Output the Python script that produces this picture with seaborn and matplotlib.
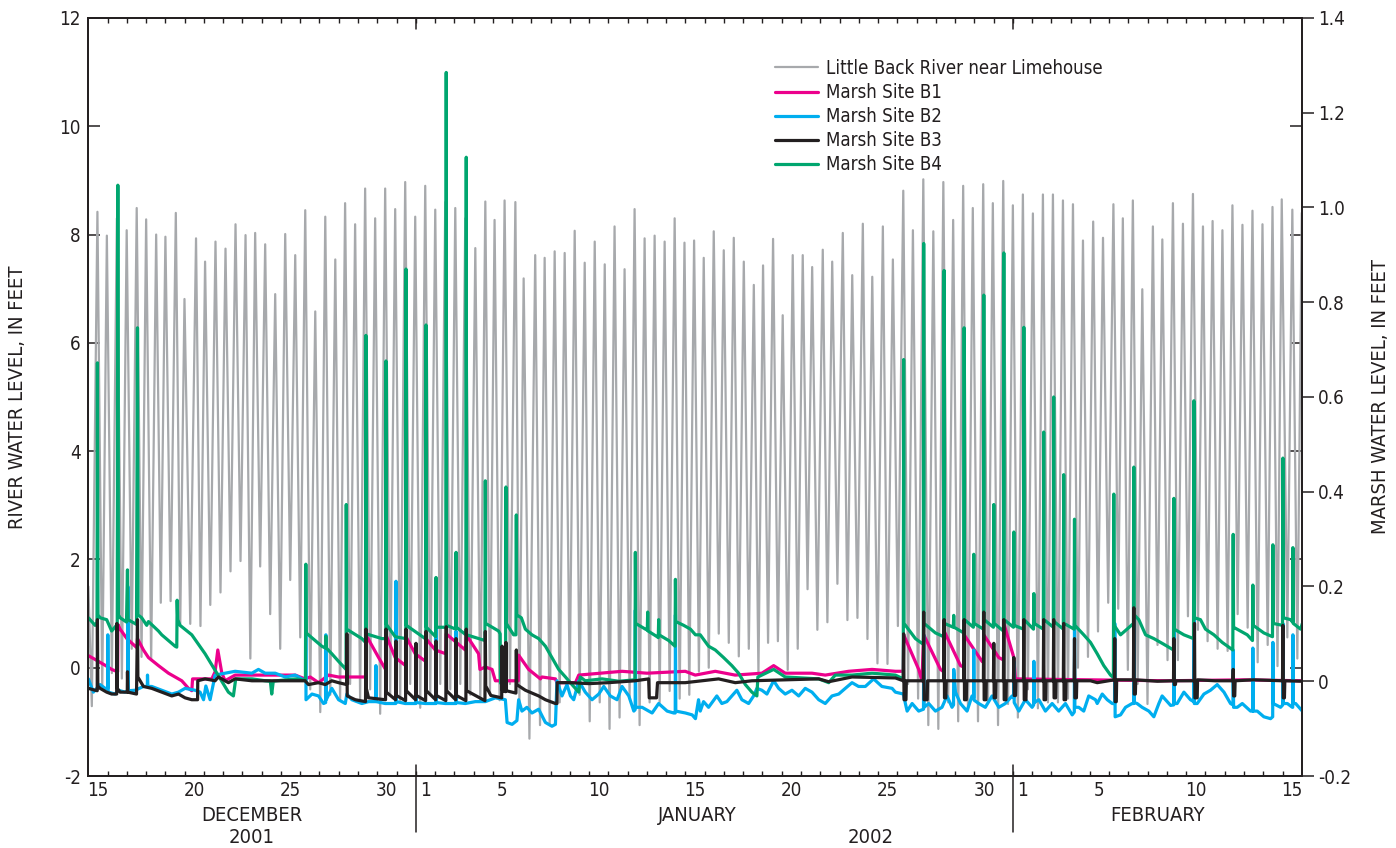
import matplotlib
matplotlib.use("Agg")
import matplotlib.pyplot as plt
from matplotlib.lines import Line2D
import numpy as np
import pandas as pd
import seaborn as sns

# ---------------------------------------------------------------
# Time axis: days since 15 December 2001, 00:00
# ---------------------------------------------------------------
X_START, X_END = 0.0, 63.0
DAY_TICK_POS = [0.5, 5.5, 10.5, 15.5, 17.5, 21.5, 26.5, 31.5, 36.5, 41.5,
                46.5, 48.5, 52.5, 57.5, 62.5]
DAY_TICK_LABELS = ["15", "20", "25", "30", "1", "5", "10", "15", "20", "25",
                   "30", "1", "5", "10", "15"]
MONTH_BREAKS = [17.0, 48.0]
MONTH_NAMES = [("DECEMBER", 8.5), ("JANUARY", 31.6), ("FEBRUARY", 55.5)]
YEAR_NAMES = [("2001", 8.5), ("2002", 40.6)]

LEFT_TICKS = [-2, 0, 2, 4, 6, 8, 10, 12]
RIGHT_TICKS = [-0.2, 0.0, 0.2, 0.4, 0.6, 0.8, 1.0, 1.2, 1.4]
RIGHT_TICK_LABELS = ["-0.2", "0", "0.2", "0.4", "0.6", "0.8", "1.0", "1.2", "1.4"]

# ---------------------------------------------------------------
# Little Back River near Limehouse: high and low tide readings (ft)
# ---------------------------------------------------------------
RIVER_HIGH_DAYS = [
    0.47, 0.96, 1.48, 1.99, 2.51, 3.00, 3.52, 4.00, 4.54, 4.99,
    5.59, 6.06, 6.60, 7.12, 7.64, 8.16, 8.66, 9.18, 9.70, 10.22,
    10.74, 11.26, 11.78, 12.30, 12.82, 13.33, 13.85, 14.37, 14.89, 15.41,
    15.93, 16.45, 16.97, 17.49, 18.01, 18.53, 19.05, 19.57, 20.09, 20.61,
    21.09, 21.61, 22.17, 22.60, 23.20, 23.69, 24.21, 24.73, 25.25, 25.77,
    26.29, 26.81, 27.32, 27.84, 28.36, 28.88, 29.40, 29.92, 30.44, 30.95,
    31.45, 31.95, 32.47, 32.99, 33.51, 34.03, 34.55, 35.03, 35.55, 36.05,
    36.57, 37.09, 37.58, 38.13, 38.62, 39.17, 39.66, 40.21, 40.70, 41.25,
    41.77, 42.31, 42.81, 43.35, 43.87, 44.39, 44.90, 45.42, 45.92, 46.46,
    46.96, 47.50, 48.00, 48.52, 49.04, 49.56, 50.08, 50.60, 51.12, 51.64,
    52.17, 52.68, 53.22, 53.71, 54.23, 54.72, 55.27, 55.76, 56.31, 56.83,
    57.35, 57.87, 58.37, 58.88, 59.40, 59.92, 60.44, 60.96, 61.48, 61.96,
    62.51, 63.00]
RIVER_HIGH_FT = [
    8.42, 7.98, 8.30, 8.08, 8.49, 8.28, 8.00, 7.96, 8.40, 6.81,
    7.93, 7.50, 7.87, 7.74, 8.19, 7.99, 8.03, 7.82, 6.90, 8.01,
    7.62, 8.45, 6.58, 8.33, 7.54, 8.58, 8.19, 8.85, 8.30, 8.85,
    8.47, 8.97, 8.33, 8.90, 8.46, 8.60, 8.49, 8.30, 7.75, 8.61,
    8.27, 8.63, 8.60, 7.19, 7.62, 7.57, 7.69, 7.66, 8.07, 7.48,
    7.87, 7.45, 8.15, 7.36, 8.47, 7.93, 7.98, 7.87, 8.30, 7.85,
    7.89, 7.57, 8.06, 7.71, 7.94, 7.50, 7.07, 7.43, 7.92, 6.51,
    7.62, 7.62, 7.40, 7.72, 7.50, 8.03, 7.25, 8.20, 7.22, 8.15,
    7.54, 8.81, 8.08, 9.02, 8.06, 8.97, 8.27, 8.90, 8.49, 8.93,
    8.58, 8.99, 8.54, 8.74, 8.39, 8.74, 8.74, 8.63, 8.56, 7.89,
    8.24, 7.94, 8.56, 8.30, 8.63, 6.99, 8.15, 7.91, 8.58, 8.20,
    8.75, 8.15, 8.25, 8.08, 8.54, 8.18, 8.44, 8.19, 8.51, 8.65,
    8.46, 8.40]
RIVER_LOW_DAYS = [
    0.00, 0.18, 0.72, 1.22, 1.74, 2.25, 2.76, 3.26, 3.76, 4.27, 4.77,
    5.29, 5.82, 6.33, 6.86, 7.38, 7.90, 8.41, 8.92, 9.44, 9.96,
    10.48, 11.00, 11.52, 12.04, 12.56, 13.07, 13.59, 14.11, 14.63, 15.15,
    15.67, 16.19, 16.71, 17.23, 17.75, 18.27, 18.79, 19.31, 19.83, 20.35,
    20.85, 21.35, 21.89, 22.38, 22.90, 23.45, 23.95, 24.47, 24.99, 25.51,
    26.03, 26.55, 27.06, 27.58, 28.10, 28.62, 29.14, 29.66, 30.18, 30.70,
    31.20, 31.70, 32.21, 32.73, 33.25, 33.77, 34.29, 34.79, 35.29, 35.80,
    36.31, 36.83, 37.34, 37.85, 38.37, 38.89, 39.41, 39.93, 40.45, 40.97,
    41.49, 42.03, 42.56, 43.08, 43.61, 44.13, 44.64, 45.16, 45.67, 46.19,
    46.71, 47.23, 47.75, 48.26, 48.78, 49.30, 49.82, 50.34, 50.86, 51.38,
    51.90, 52.42, 52.95, 53.47, 53.97, 54.48, 54.99, 55.51, 56.03, 56.57,
    57.09, 57.61, 58.11, 58.63, 59.15, 59.67, 60.19, 60.71, 61.23, 61.74,
    62.25, 62.77]
RIVER_LOW_FT = [
    1.50, -0.71, -0.40, -0.10, -0.20, 0.35, 0.20, 0.14, 1.20, 1.23, 0.81,
    0.81, 0.77, 1.16, 1.39, 1.78, 1.97, 0.17, 1.87, 0.99, 0.35,
    1.62, 0.56, -0.40, -0.82, -0.50, -0.60, -0.30, -0.60, -0.40, -0.85,
    -0.50, -0.60, -0.30, -0.74, -0.50, -0.30, -0.40, -0.30, -0.50, -0.60,
    -0.50, -0.60, -0.30, -0.64, -1.31, -1.06, -1.06, -0.64, -0.28, -0.50,
    -0.99, -0.64, -1.13, -0.92, -0.57, -1.06, -0.64, -0.64, -0.43, -0.57,
    -0.50, -0.07, 0.00, 0.63, 0.46, 0.21, 0.35, -0.10, 0.46, 0.49,
    -0.04, 0.35, 1.45, 0.70, 0.84, 1.55, 0.88, 0.92, 0.53, 0.08,
    0.07, 0.77, -0.30, -0.57, -1.06, -1.13, -0.64, -0.99, -0.78, -0.99,
    -0.64, -1.06, -0.67, -0.92, -0.40, -0.75, -0.64, -0.64, -0.57, 0.00,
    0.20, 0.67, 1.20, 1.09, -0.04, -0.30, -0.67, 0.42, 0.14, 0.14,
    0.95, 0.70, 0.49, 0.35, 0.31, 0.99, 0.74, 0.10, 0.42, 0.03,
    0.56, 0.17]

# ---------------------------------------------------------------
# Marsh sites: (day, water level in ft)
# ---------------------------------------------------------------
MARSH_B1 = [
    (0.00, 0.054), (0.35, 0.046), (0.90, 0.033), (1.21, 0.025), (1.52, 0.020), (1.53, 0.120),
    (1.65, 0.110), (2.00, 0.090), (2.43, 0.074), (2.54, 0.070), (2.55, 0.090), (2.86, 0.066),
    (3.12, 0.050), (3.64, 0.033), (4.16, 0.017), (4.85, 0.001), (5.20, -0.015), (5.37, -0.020),
    (5.41, 0.005), (6.41, 0.005), (6.58, 0.020), (6.72, 0.066), (6.93, 0.017), (7.10, 0.001),
    (7.27, 0.005), (7.62, 0.013), (8.14, 0.013), (10.74, 0.013), (11.25, 0.005), (11.52, 0.009),
    (11.95, -0.003), (12.47, 0.013), (12.99, 0.009), (14.39, 0.009), (14.41, 0.098), (15.07, 0.050),
    (15.43, 0.025), (15.45, 0.098), (15.93, 0.050), (16.47, 0.033), (16.49, 0.094), (16.97, 0.058),
    (17.51, 0.042), (17.53, 0.090), (18.01, 0.066), (18.56, 0.058), (18.58, 0.100), (19.57, 0.066),
    (19.62, 0.098), (20.26, 0.058), (20.33, 0.025), (20.61, 0.030), (20.96, 0.025), (21.13, 0.001),
    (22.32, 0.001), (22.34, 0.055), (22.86, 0.025), (23.47, 0.005), (23.55, 0.009), (24.25, 0.005),
    (24.33, -0.003), (25.29, -0.003), (25.46, 0.013), (27.71, 0.021), (29.00, 0.017), (30.99, 0.021),
    (31.51, 0.013), (32.55, 0.021), (33.58, 0.013), (34.97, 0.017), (35.58, 0.033), (36.18, 0.017),
    (37.57, 0.017), (38.26, 0.013), (39.47, 0.021), (40.69, 0.025), (41.90, 0.021), (42.31, 0.021),
    (42.33, 0.098), (43.11, 0.025), (43.28, 0.001), (43.37, 0.098), (44.24, 0.025), (44.41, 0.020),
    (44.43, 0.106), (45.28, 0.033), (45.45, 0.030), (45.47, 0.098), (46.40, 0.042), (46.47, 0.040),
    (46.49, 0.098), (47.27, 0.050), (47.51, 0.045), (47.53, 0.122), (48.05, 0.050), (48.13, 0.005),
    (52.00, 0.003), (56.00, 0.001), (60.00, 0.003), (63.03, 0.001)]

MARSH_B2 = [
    (0.00, 0.005), (0.26, -0.023), (0.61, -0.007), (0.87, -0.015), (1.00, -0.015), (1.01, 0.098),
    (1.03, -0.023), (1.39, -0.027), (1.56, -0.019), (1.91, -0.023), (2.04, -0.020), (2.05, 0.200),
    (2.07, -0.020), (2.43, -0.019), (2.86, -0.011), (3.06, -0.011), (3.07, 0.013), (3.09, -0.011),
    (3.29, -0.011), (3.81, -0.019), (4.33, -0.027), (4.68, -0.023), (5.02, -0.015), (5.54, -0.019),
    (5.80, -0.023), (5.98, -0.039), (6.10, -0.010), (6.32, -0.039), (6.58, 0.013), (7.62, 0.021),
    (8.49, 0.017), (8.83, 0.025), (9.18, 0.017), (9.70, 0.017), (10.22, 0.009), (10.74, 0.013),
    (11.26, 0.001), (11.28, 0.001), (11.29, 0.106), (11.30, -0.039), (11.61, -0.027), (11.95, -0.031),
    (12.21, -0.047), (12.32, -0.045), (12.33, 0.098), (12.35, -0.039), (12.64, -0.015), (12.99, -0.039),
    (13.34, -0.047), (13.42, -0.027), (13.68, -0.039), (14.20, -0.047), (14.55, -0.043), (14.92, -0.043),
    (14.93, 0.033), (14.95, -0.043), (15.41, -0.047), (15.96, -0.047), (15.97, 0.211), (15.99, -0.043),
    (16.45, -0.047), (16.99, -0.047), (17.01, 0.070), (17.03, -0.045), (17.49, -0.047), (18.04, -0.047),
    (18.05, 0.114), (18.07, -0.045), (18.53, -0.047), (19.08, -0.047), (19.09, 0.106), (19.11, -0.045),
    (19.57, -0.047), (20.09, -0.043), (20.61, -0.043), (21.13, -0.035), (21.65, -0.039), (21.74, -0.087),
    (22.00, -0.091), (22.25, -0.083), (22.34, -0.039), (22.51, -0.063), (22.77, -0.055), (23.03, -0.067),
    (23.38, -0.059), (23.73, -0.087), (24.07, -0.095), (24.25, -0.091), (24.33, 0.001), (24.59, -0.031),
    (24.85, -0.007), (25.03, -0.031), (25.20, -0.039), (25.46, 0.001), (25.80, -0.023), (26.15, -0.039),
    (26.50, -0.027), (26.76, -0.011), (27.10, -0.031), (27.45, -0.039), (27.71, -0.011), (28.06, -0.031),
    (28.32, -0.063), (28.39, -0.060), (28.40, 0.150), (28.42, -0.055), (28.75, -0.055), (29.09, -0.063),
    (29.27, -0.067), (29.61, -0.047), (30.05, -0.063), (30.39, -0.067), (30.47, -0.067), (30.48, 0.140),
    (30.50, -0.063), (31.00, -0.067), (31.35, -0.071), (31.52, -0.079), (31.68, -0.039), (31.77, -0.063),
    (31.94, -0.043), (32.20, -0.055), (32.63, -0.031), (32.89, -0.047), (33.15, -0.043), (33.67, -0.019),
    (33.93, -0.039), (34.28, -0.047), (34.54, -0.031), (34.71, -0.015), (34.97, -0.019), (35.23, -0.027),
    (35.58, 0.001), (35.84, -0.015), (36.18, -0.027), (36.53, -0.019), (36.88, -0.031), (37.22, -0.015),
    (37.57, -0.023), (37.92, -0.039), (38.26, -0.047), (38.61, -0.031), (38.96, -0.027), (39.30, -0.015),
    (39.65, -0.003), (39.99, -0.011), (40.34, -0.011), (40.77, 0.005), (41.20, -0.011), (41.73, -0.015),
    (41.90, -0.023), (42.32, -0.027), (42.42, -0.047), (42.51, -0.063), (42.77, -0.047), (43.11, -0.063),
    (43.36, -0.059), (43.37, 0.098), (43.39, -0.055), (43.63, -0.047), (43.98, -0.063), (44.32, -0.055),
    (44.58, -0.031), (44.84, -0.055), (44.92, -0.050), (44.93, 0.025), (45.02, -0.023), (45.28, -0.047),
    (45.62, -0.063), (45.88, -0.031), (45.96, -0.035), (45.97, 0.066), (45.99, -0.040), (46.23, -0.047),
    (46.57, -0.055), (46.92, -0.031), (47.27, -0.055), (47.61, -0.047), (47.96, -0.031), (48.04, -0.035),
    (48.05, 0.042), (48.07, -0.045), (48.31, -0.063), (48.65, -0.039), (49.00, -0.055), (49.08, -0.050),
    (49.09, 0.042), (49.11, -0.045), (49.35, -0.039), (49.69, -0.063), (50.04, -0.047), (50.38, -0.063),
    (50.73, -0.047), (51.08, -0.071), (51.19, -0.065), (51.20, 0.122), (51.22, -0.055), (51.42, -0.055),
    (51.68, -0.063), (51.94, -0.031), (52.29, -0.039), (52.38, -0.047), (52.64, -0.027), (52.90, -0.039),
    (53.16, -0.047), (53.28, -0.047), (53.29, 0.122), (53.31, -0.075), (53.59, -0.071), (53.85, -0.055),
    (54.19, -0.047), (54.27, -0.047), (54.28, 0.139), (54.30, -0.045), (54.45, -0.047), (54.71, -0.055),
    (55.06, -0.063), (55.32, -0.075), (55.58, -0.047), (55.75, -0.031), (56.01, -0.043), (56.19, -0.051),
    (56.35, -0.050), (56.36, 0.130), (56.38, -0.047), (56.53, -0.047), (56.88, -0.023), (57.22, -0.039),
    (57.39, -0.043), (57.40, 0.139), (57.42, -0.047), (57.57, -0.047), (57.92, -0.027), (58.26, -0.019),
    (58.61, -0.007), (58.96, -0.023), (59.30, -0.047), (59.43, -0.050), (59.44, 0.066), (59.46, -0.055),
    (59.65, -0.055), (59.91, -0.047), (60.34, -0.063), (60.45, -0.063), (60.46, 0.070), (60.48, -0.063),
    (60.69, -0.063), (61.03, -0.075), (61.38, -0.079), (61.49, -0.075), (61.50, 0.082), (61.52, -0.047),
    (61.90, -0.055), (62.01, -0.050), (62.02, 0.122), (62.04, -0.047), (62.25, -0.047), (62.51, -0.055),
    (62.53, -0.055), (62.54, 0.098), (62.56, -0.047), (62.68, -0.047), (63.03, -0.063)]

MARSH_B3 = [
    (0.00, -0.015), (0.35, -0.019), (0.46, -0.020), (0.47, 0.130), (0.49, -0.010), (0.61, -0.015),
    (0.95, -0.023), (1.21, -0.027), (1.47, -0.027), (1.48, 0.122), (1.50, -0.015), (1.65, -0.023),
    (2.02, -0.023), (2.03, 0.020), (2.05, -0.023), (2.50, -0.027), (2.55, 0.130), (2.57, 0.009),
    (2.86, -0.011), (3.29, -0.015), (3.81, -0.023), (4.33, -0.031), (4.68, -0.027), (5.02, -0.035),
    (5.37, -0.039), (5.67, -0.039), (5.68, 0.001), (6.06, 0.005), (6.58, 0.001), (6.75, 0.009),
    (7.27, -0.003), (7.62, 0.005), (8.49, 0.001), (10.74, 0.001), (11.25, 0.001), (11.43, -0.007),
    (11.95, -0.003), (12.30, -0.007), (12.64, 0.001), (12.99, -0.003), (13.41, -0.007), (13.42, 0.100),
    (13.44, -0.031), (13.86, -0.039), (14.39, -0.043), (14.41, 0.110), (14.43, -0.015), (14.55, -0.035),
    (15.43, -0.039), (15.45, 0.110), (15.47, -0.023), (15.95, -0.039), (15.97, 0.085), (15.99, -0.030),
    (16.47, -0.041), (16.49, 0.110), (16.51, -0.020), (16.99, -0.039), (17.01, 0.080), (17.03, -0.030),
    (17.51, -0.041), (17.53, 0.105), (17.55, -0.020), (18.03, -0.039), (18.05, 0.085), (18.07, -0.030),
    (18.56, -0.041), (18.58, 0.115), (18.60, -0.020), (19.07, -0.039), (19.09, 0.090), (19.11, -0.030),
    (19.60, -0.041), (19.62, 0.110), (19.64, -0.020), (20.59, -0.041), (20.61, 0.105), (20.63, -0.010),
    (20.90, -0.030), (21.46, -0.035), (21.48, 0.074), (21.50, -0.020), (21.66, -0.022), (21.68, 0.082),
    (21.70, -0.020), (22.20, -0.025), (22.22, 0.066), (22.24, -0.007), (22.69, -0.019), (23.38, -0.031),
    (23.73, -0.039), (24.25, -0.047), (24.33, -0.047), (24.34, -0.003), (25.00, -0.003), (26.00, -0.005),
    (27.00, -0.003), (28.40, 0.001), (29.09, 0.005), (29.12, -0.035), (29.50, -0.035), (29.55, -0.003),
    (30.99, -0.003), (31.86, 0.001), (32.72, 0.005), (33.59, -0.003), (34.45, 0.001), (36.18, 0.003),
    (37.92, 0.005), (38.44, -0.001), (39.65, 0.009), (41.90, 0.007), (42.31, 0.001), (42.33, 0.100),
    (42.35, -0.039), (42.45, -0.039), (42.47, 0.001), (43.35, 0.001), (43.37, 0.146), (43.39, -0.039),
    (43.55, -0.039), (43.57, 0.001), (44.41, 0.001), (44.43, 0.130), (44.45, -0.035), (44.52, -0.035),
    (44.54, 0.001), (45.45, 0.001), (45.47, 0.130), (45.49, -0.039), (45.58, -0.039), (45.60, 0.001),
    (46.47, 0.001), (46.49, 0.146), (46.51, -0.039), (46.60, -0.039), (46.62, 0.001), (46.99, 0.001),
    (47.01, 0.080), (47.03, -0.035), (47.10, -0.035), (47.12, 0.001), (47.51, 0.001), (47.53, 0.130),
    (47.55, -0.039), (47.64, -0.039), (47.66, 0.001), (48.03, 0.001), (48.05, 0.050), (48.07, -0.030),
    (48.14, -0.030), (48.16, 0.001), (48.55, 0.001), (48.57, 0.130), (48.59, -0.039), (48.68, -0.039),
    (48.70, 0.001), (49.58, 0.001), (49.60, 0.130), (49.62, -0.039), (49.70, -0.039), (49.72, 0.001),
    (50.10, 0.001), (50.12, 0.130), (50.14, -0.035), (50.22, -0.035), (50.24, 0.001), (50.62, 0.001),
    (50.64, 0.122), (50.66, -0.039), (50.74, -0.039), (50.76, 0.001), (51.18, 0.001), (51.20, 0.090),
    (51.22, -0.035), (51.30, -0.035), (51.32, 0.001), (52.03, 0.001), (52.38, -0.003), (53.27, 0.003),
    (53.29, 0.090), (53.31, -0.043), (53.37, -0.043), (53.39, 0.003), (54.26, 0.003), (54.28, 0.155),
    (54.30, -0.027), (54.36, -0.027), (54.38, 0.003), (55.50, 0.000), (56.34, 0.001), (56.36, 0.090),
    (56.38, -0.007), (56.44, -0.007), (56.46, 0.001), (57.41, 0.001), (57.43, 0.122), (57.45, -0.035),
    (57.57, -0.035), (57.59, 0.003), (58.50, 0.001), (59.42, 0.001), (59.44, 0.025), (59.46, -0.031),
    (59.52, -0.031), (59.54, 0.001), (60.50, 0.003), (62.00, 0.001), (62.02, 0.118), (62.04, -0.035),
    (62.10, -0.035), (62.12, 0.001), (63.03, 0.000)]

MARSH_B4 = [
    (0.00, 0.134), (0.35, 0.118), (0.45, 0.125), (0.47, 0.672), (0.50, 0.140), (0.61, 0.134),
    (0.95, 0.130), (1.21, 0.106), (1.50, 0.120), (1.53, 1.047), (1.56, 0.140), (1.65, 0.134),
    (1.98, 0.125), (2.03, 0.235), (2.06, 0.130), (2.50, 0.120), (2.55, 0.746), (2.58, 0.140),
    (2.77, 0.134), (3.03, 0.118), (3.12, 0.126), (3.64, 0.106), (3.81, 0.098), (4.50, 0.074),
    (4.59, 0.072), (4.61, 0.171), (4.64, 0.130), (4.76, 0.118), (5.37, 0.098), (6.06, 0.058),
    (6.67, 0.017), (7.27, -0.023), (7.53, -0.031), (7.65, 0.005), (8.50, 0.005), (9.18, 0.001),
    (9.45, 0.000), (9.52, -0.027), (9.60, 0.000), (9.79, 0.001), (10.74, 0.005), (11.27, 0.002),
    (11.29, 0.247), (11.31, 0.102), (12.12, 0.074), (12.31, 0.070), (12.33, 0.095), (12.36, 0.070),
    (12.64, 0.058), (12.99, 0.042), (13.38, 0.025), (13.39, 0.373), (13.41, 0.110), (14.20, 0.090),
    (14.39, 0.082), (14.41, 0.730), (14.43, 0.100), (15.24, 0.090), (15.44, 0.090), (15.45, 0.676),
    (15.47, 0.120), (15.93, 0.094), (16.48, 0.090), (16.49, 0.870), (16.51, 0.118), (17.49, 0.090),
    (17.52, 0.090), (17.53, 0.752), (17.55, 0.114), (18.03, 0.094), (18.05, 0.219), (18.07, 0.114),
    (18.56, 0.114), (18.58, 1.285), (18.60, 0.118), (19.07, 0.110), (19.09, 0.272), (19.11, 0.114),
    (19.60, 0.098), (19.62, 1.106), (19.64, 0.098), (20.59, 0.086), (20.61, 0.423), (20.63, 0.122),
    (21.30, 0.106), (21.38, 0.100), (21.40, -0.004), (21.66, -0.004), (21.68, 0.410), (21.70, 0.122),
    (22.08, 0.098), (22.20, 0.098), (22.22, 0.351), (22.24, 0.140), (22.48, 0.134), (22.69, 0.110),
    (23.03, 0.098), (23.38, 0.090), (23.73, 0.074), (24.07, 0.050), (24.42, 0.025), (24.77, 0.009),
    (25.11, -0.007), (25.46, -0.023), (25.54, 0.009), (25.80, 0.001), (26.67, 0.005), (27.54, 0.000),
    (28.38, 0.003), (28.40, 0.272), (28.42, 0.122), (28.92, 0.110), (29.02, 0.108), (29.04, 0.146),
    (29.06, 0.106), (29.53, 0.094), (29.59, 0.092), (29.61, 0.130), (29.63, 0.098), (30.13, 0.086),
    (30.46, 0.074), (30.48, 0.215), (30.50, 0.126), (30.91, 0.118), (31.26, 0.110), (31.52, 0.098),
    (31.77, 0.098), (32.20, 0.074), (32.55, 0.066), (32.98, 0.050), (33.41, 0.033), (33.76, 0.017),
    (34.11, -0.007), (34.45, -0.023), (34.71, -0.031), (34.76, 0.009), (35.58, 0.025), (36.18, 0.009),
    (37.92, 0.005), (38.44, -0.003), (38.78, 0.013), (39.65, 0.013), (40.69, 0.017), (41.90, 0.013),
    (42.31, 0.005), (42.33, 0.679), (42.35, 0.122), (42.94, 0.090), (43.35, 0.078), (43.37, 0.924),
    (43.39, 0.122), (43.98, 0.102), (44.41, 0.094), (44.43, 0.867), (44.45, 0.122), (44.91, 0.114),
    (44.93, 0.139), (44.95, 0.114), (45.45, 0.102), (45.47, 0.746), (45.49, 0.130), (45.95, 0.114),
    (45.97, 0.268), (45.99, 0.122), (46.47, 0.110), (46.49, 0.815), (46.51, 0.130), (46.99, 0.114),
    (47.01, 0.373), (47.03, 0.122), (47.51, 0.106), (47.53, 0.904), (47.55, 0.130), (48.03, 0.114),
    (48.05, 0.315), (48.07, 0.118), (48.55, 0.110), (48.57, 0.747), (48.59, 0.130), (49.07, 0.110),
    (49.09, 0.185), (49.11, 0.122), (49.58, 0.110), (49.60, 0.526), (49.62, 0.130), (50.10, 0.114),
    (50.12, 0.600), (50.14, 0.126), (50.62, 0.110), (50.64, 0.436), (50.66, 0.122), (51.18, 0.110),
    (51.20, 0.342), (51.22, 0.118), (51.68, 0.098), (52.03, 0.082), (52.38, 0.058), (52.72, 0.033),
    (53.07, 0.013), (53.22, 0.008), (53.24, 0.395), (53.26, 0.118), (53.59, 0.098), (53.93, 0.110),
    (54.26, 0.122), (54.28, 0.452), (54.30, 0.140), (54.54, 0.130), (54.89, 0.098), (55.32, 0.090),
    (55.84, 0.078), (56.34, 0.066), (56.36, 0.386), (56.38, 0.110), (56.88, 0.098), (57.38, 0.090),
    (57.40, 0.592), (57.42, 0.134), (57.74, 0.130), (58.00, 0.110), (58.44, 0.098), (58.87, 0.082),
    (59.42, 0.066), (59.44, 0.310), (59.46, 0.114), (60.17, 0.098), (60.44, 0.086), (60.46, 0.203),
    (60.48, 0.118), (61.03, 0.102), (61.48, 0.094), (61.50, 0.288), (61.52, 0.122), (62.00, 0.118),
    (62.02, 0.471), (62.04, 0.134), (62.42, 0.130), (62.52, 0.125), (62.54, 0.282), (62.56, 0.122),
    (62.94, 0.110), (63.03, 0.122)]

RIVER_NAME = "Little Back River near Limehouse"
SITE_NAMES = ["Marsh Site B1", "Marsh Site B2", "Marsh Site B3", "Marsh Site B4"]
COLORS = {
    RIVER_NAME: "#a7a9ac",
    "Marsh Site B1": "#ec008c",
    "Marsh Site B2": "#00aeef",
    "Marsh Site B3": "#231f20",
    "Marsh Site B4": "#00a66f",
}
DRAW_ORDER = ["Marsh Site B1", "Marsh Site B2", "Marsh Site B4", "Marsh Site B3"]

# ---------------------------------------------------------------
# Tables
# ---------------------------------------------------------------
river = pd.DataFrame({
    "day": RIVER_HIGH_DAYS + RIVER_LOW_DAYS,
    "level": RIVER_HIGH_FT + RIVER_LOW_FT,
}).sort_values("day").reset_index(drop=True)

frames = []
for name, series in zip(SITE_NAMES, [MARSH_B1, MARSH_B2, MARSH_B3, MARSH_B4]):
    f = pd.DataFrame(series, columns=["day", "level"])
    f["site"] = name
    frames.append(f)
marsh = pd.concat(frames, ignore_index=True)

# ---------------------------------------------------------------
# Figure
# ---------------------------------------------------------------
sns.set_theme(style="white")
plt.rcParams["font.family"] = ["DejaVu Sans"]
plt.rcParams["font.stretch"] = "condensed"
plt.rcParams["axes.unicode_minus"] = False

TEXT = "#231f20"
FS = 13.5
fig = plt.figure(figsize=(13.96, 8.48), dpi=100)
ax = fig.add_axes([0.0633, 0.0849, 0.8692, 0.8939])

sns.lineplot(data=river, x="day", y="level", ax=ax, color=COLORS[RIVER_NAME],
             linewidth=1.6, estimator=None, sort=False)

ax2 = ax.twinx()
sns.lineplot(data=marsh, x="day", y="level", hue="site", hue_order=DRAW_ORDER,
             palette=COLORS, ax=ax2, linewidth=2.3, estimator=None, sort=False,
             legend=False)

# --- left axis (river)
ax.set_xlim(X_START, X_END)
ax.set_ylim(-2, 12)
ax.set_yticks(LEFT_TICKS)
ax.set_yticklabels([str(t) for t in LEFT_TICKS])
ax.set_xlabel("")
ax.set_ylabel("RIVER WATER LEVEL, IN FEET", fontsize=14.5, color=TEXT)
ax.yaxis.label.set_va("center")
ax.yaxis.set_label_coords(-0.058, 0.5)
ax.tick_params(axis="y", which="major", direction="in", length=8.6, width=1.1,
               left=True, right=True, labelright=False, labelsize=FS,
               colors=TEXT, pad=5.5)

# --- right axis (marsh)
ax2.set_ylim(-0.2, 1.4)
ax2.set_yticks(RIGHT_TICKS)
ax2.set_yticklabels(RIGHT_TICK_LABELS)
ax2.set_ylabel("MARSH WATER LEVEL, IN FEET", fontsize=14.5, color=TEXT, rotation=90)
ax2.yaxis.label.set_va("center")
ax2.yaxis.set_label_coords(1.0645, 0.5)
ax2.tick_params(axis="y", which="major", direction="out", length=8.6, width=1.1,
                labelsize=FS, colors=TEXT, pad=3)

# --- time axis
ax.set_xticks(DAY_TICK_POS)
ax.set_xticklabels(DAY_TICK_LABELS)
ax.set_xticks(np.arange(1, 63), minor=True)
ax.tick_params(axis="x", which="major", length=0, labelsize=FS, colors=TEXT, pad=3.5)
ax.tick_params(axis="x", which="minor", direction="in", length=3.6, width=1.0,
               top=True, bottom=True, colors=TEXT)

xform = ax.get_xaxis_transform()
for b in MONTH_BREAKS:
    ax.add_line(Line2D([b, b], [-0.074, 0.0145], transform=xform, color=TEXT,
                       lw=1.1, clip_on=False))
    ax.add_line(Line2D([b, b], [1.0, 0.986], transform=xform, color=TEXT,
                       lw=1.1, clip_on=False))
for name, pos in MONTH_NAMES:
    ax.text(pos, -0.0515, name, transform=xform, ha="center", va="center",
            fontsize=FS + 1, color=TEXT)
for name, pos in YEAR_NAMES:
    ax.text(pos, -0.0815, name, transform=xform, ha="center", va="center",
            fontsize=FS + 1, color=TEXT)

for a in (ax, ax2):
    for s in a.spines.values():
        s.set_color(TEXT)
        s.set_linewidth(1.3)

# --- legend
handles = [Line2D([0], [0], color=COLORS[RIVER_NAME], lw=1.6)]
handles += [Line2D([0], [0], color=COLORS[n], lw=2.3) for n in SITE_NAMES]
labels = [RIVER_NAME] + SITE_NAMES
leg = ax2.legend(handles, labels, loc="upper left",
                 bbox_to_anchor=(775 / 1396, 1 - 59 / 848),
                 bbox_transform=fig.transFigure, frameon=False,
                 fontsize=13.4, handlelength=2.3, handletextpad=0.45,
                 labelspacing=0.27, borderpad=0, borderaxespad=0)
for t in leg.get_texts():
    t.set_color(TEXT)

fig.savefig("out.png", dpi=100)
